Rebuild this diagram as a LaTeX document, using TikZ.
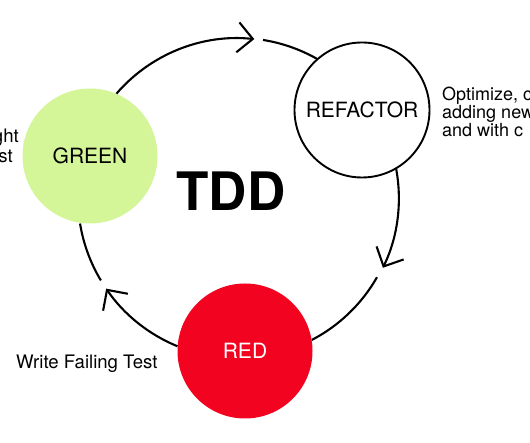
\documentclass[tikz,border=0pt]{standalone}
\usepackage{fontspec}
\setmainfont{TeX Gyre Heros}
\usetikzlibrary{arrows.meta}

\definecolor{tddgreen}{RGB}{212,245,152}
\definecolor{tddred}{RGB}{242,4,32}

\tikzset{
  phase/.style={circle,minimum size=135pt,inner sep=0pt,
    font=\fontsize{21}{24}\selectfont},
  cycle/.style={line width=2.1pt},
  flow/.style={cycle,-{Straight Barb[length=15pt,width=30pt]}},
  note/.style={inner sep=0pt,font=\fontsize{18.6}{20}\selectfont}
}

\begin{document}
\begin{tikzpicture}[x=1pt,y=1pt]
\useasboundingbox (0,0) rectangle (530,443);

\coordinate (C) at (238,245);

\node[phase,fill=tddgreen] (green) at (90,287) {GREEN};
\node[phase,draw,line width=1.9pt,fill=white] (refactor) at (362,333) {REFACTOR};
\node[phase,fill=tddred,text=white] (red) at (245,92) {RED};

\node[font=\fontsize{53}{60}\selectfont\bfseries] (tdd) at (231,252) {TDD};

% the cycle, clockwise
\coordinate (gapA) at ([shift={(81:160pt)}]C);
\coordinate (gapB) at ([shift={(-29.7:160pt)}]C);
\coordinate (gapC) at ([shift={(211:160pt)}]C);

\draw[flow] (green.67) arc[start angle=139.2,end angle=84,radius=160pt];
\draw[cycle] (gapA) arc[start angle=81,end angle=60.4,radius=160pt];
\draw[flow] (refactor.-60) arc[start angle=10.4,end angle=-25.8,radius=160pt];
\draw[cycle] (gapB) arc[start angle=-29.7,end angle=-62.5,radius=160pt];
\draw[flow] (red.176) arc[start angle=-112.3,end angle=-145.6,radius=160pt];
\draw[cycle] (gapC) arc[start angle=211,end angle=189.2,radius=160pt];

% notes
\node[note,anchor=base east] (greenA) at (19,300) {ght};
\node[note,anchor=base east] (greenB) at (13,280) {st};
\node[note,font=\fontsize{18}{18}\selectfont,align=left,anchor=north west]
  (refactornote) at (442,356) {Optimize, c\\adding new\\and with c};
\node[note,anchor=west] (rednote) at (16,79) {Write Failing Test};

\end{tikzpicture}
\end{document}
